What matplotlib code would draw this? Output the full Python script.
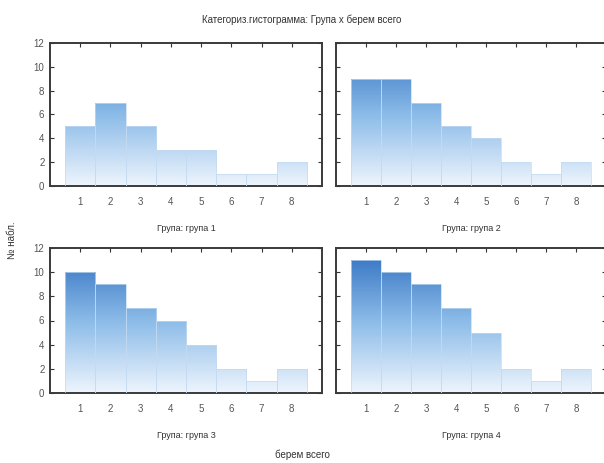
import matplotlib
matplotlib.use("Agg")
import matplotlib.pyplot as plt
import numpy as np
from matplotlib.colors import LinearSegmentedColormap

plt.rcParams['font.family'] = ['Liberation Sans', 'DejaVu Sans']

# data
bins = [1, 2, 3, 4, 5, 6, 7, 8]
group1 = [5, 7, 5, 3, 3, 1, 1, 2]
group2 = [9, 9, 7, 5, 4, 2, 1, 2]
group3 = [10, 9, 7, 6, 4, 2, 1, 2]
group4 = [11, 10, 9, 7, 5, 2, 1, 2]
groups = [group1, group2, group3, group4]
titles = ["Група: група 1", "Група: група 2", "Група: група 3", "Група: група 4"]

cmap = LinearSegmentedColormap.from_list("grad", ["#eef5fd", "#8bbbe8", "#2f6fc0"])
grad = np.linspace(0, 1, 256).reshape(-1, 1)

fig = plt.figure(figsize=(6.04, 4.63), dpi=100)
W, H = 604.0, 463.0
# [left, right, top, bottom] in pixels
boxes = [(50, 322, 43, 186), (336, 606, 43, 186),
         (50, 322, 248, 393), (336, 606, 248, 393)]

tc = "#555555"
for i, (l, r, t, b) in enumerate(boxes):
    ax = fig.add_axes([l / W, 1 - b / H, (r - l) / W, (b - t) / H])
    vals = groups[i]
    bars = ax.bar(bins, vals, width=1.0, facecolor='none',
                  edgecolor="#c4daf1", linewidth=0.5, zorder=3)
    for bar in bars:
        im = ax.imshow(grad, cmap=cmap, origin='lower', aspect='auto',
                       extent=(0.5, 8.5, 0, 12), zorder=2)
        im.set_clip_path(bar)
    ax.set_xlim(0, 9)
    ax.set_ylim(0, 12)
    ax.set_xticks(bins)
    ax.set_yticks(range(0, 13, 2))
    ax.tick_params(direction='in', length=3, width=0.8, color="#333333",
                   top=True, right=True, labelsize=7, labelcolor=tc, pad=8)
    ax.tick_params(axis='y', pad=4)
    if i % 2 == 1:
        ax.set_yticklabels([])
    for s in ax.spines.values():
        s.set_linewidth(1.4)
        s.set_color("#3a3a3a")
    ax.set_xlabel(titles[i], fontsize=6.5, color="#333333", labelpad=12)

fig.text(0.5, 1 - 20 / H, "Категориз.гистограмма: Група x берем всего",
         ha='center', va='center', fontsize=7, color="#333333")
fig.text(0.5, 1 - 455 / H, "берем всего", ha='center', va='center',
         fontsize=7, color="#333333")
fig.text(12 / W, 1 - 240 / H, "№ набл.", ha='center', va='center',
         rotation=90, fontsize=7, color="#333333")

fig.savefig("out.png", dpi=100)
